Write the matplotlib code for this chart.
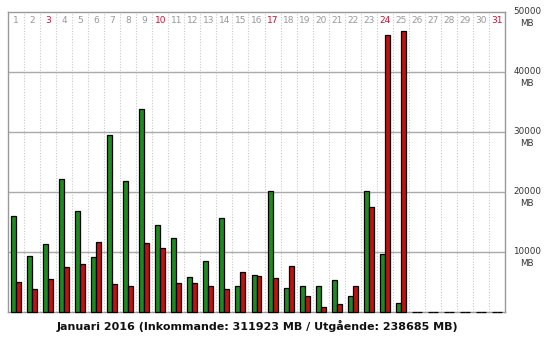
import matplotlib
matplotlib.use("Agg")
import matplotlib.pyplot as plt
from matplotlib.transforms import ScaledTranslation
import numpy as np

days = list(range(1, 32))
weekend_days = [3, 10, 17, 24, 31]
incoming = [16000, 9300, 11300, 22100, 16800, 9100, 29500, 21800, 33800, 14500,
            12300, 5800, 8500, 15600, 4300, 6100, 20100, 4000, 4400, 4300,
            5300, 2600, 20100, 9600, 1500, 0, 0, 0, 0, 0, 0]
outgoing = [5000, 3800, 5500, 7500, 8000, 11600, 4600, 4300, 11500, 10600,
            4800, 4800, 4300, 3800, 6600, 6000, 5600, 7600, 2600, 800,
            1300, 4400, 17500, 46100, 46800, 0, 0, 0, 0, 0, 0]
yticks = [10000, 20000, 30000, 40000, 50000]
ytick_labels = ["10000\nMB", "20000\nMB", "30000\nMB", "40000\nMB", "50000\nMB"]
title = "Januari 2016 (Inkommande: 311923 MB / Utgående: 238685 MB)"

fig = plt.figure(figsize=(5.47, 3.39), dpi=100)
ax = fig.add_axes([8/547, 27/339, 497/547, 300/339])

x = np.array(days)
w = 0.31
ax.bar(x - w/2, incoming, width=w, color="#1f8a1f", edgecolor="black", linewidth=0.9,
       zorder=3, clip_on=False)
ax.bar(x + w/2, outgoing, width=w, color="#c01212", edgecolor="black", linewidth=0.9,
       zorder=3, clip_on=False)

ax.set_xlim(0.5, 31.5)
ax.set_ylim(0, 50000)

# vertical dotted separators
for b in np.arange(1.5, 31.5, 1):
    ax.axvline(b, color="#c8c8c8", linestyle=(0, (1, 1.5)), linewidth=0.8, zorder=1)
# horizontal grid
for t in yticks[:-1]:
    ax.axhline(t, color="#aaaaaa", linewidth=1.0, zorder=2)

# day labels
for d in days:
    col = "#cc1133" if d in weekend_days else "#999999"
    ax.text(d, 0.973, str(d), transform=ax.get_xaxis_transform(), ha="center", va="center",
            fontsize=6.5, color=col, zorder=4)

ax.set_xticks([])
ax.yaxis.tick_right()
ax.set_yticks(yticks)
ax.set_yticklabels(ytick_labels, fontsize=6.3, color="#333333", ha="center", va="top",
                   linespacing=1.5)
ax.tick_params(axis="y", length=0, pad=16)
offset = ScaledTranslation(0, 5/100, fig.dpi_scale_trans)
for lab in ax.get_yticklabels():
    lab.set_transform(lab.get_transform() + offset)

for s in ax.spines.values():
    s.set_color("#999999")
    s.set_linewidth(1.0)
    s.set_zorder(2)

fig.text(257/547, 1 - 326/339, title, ha="center", va="center", fontsize=8.0,
         fontweight="bold", color="#111111")

fig.savefig("out.png", dpi=100)
